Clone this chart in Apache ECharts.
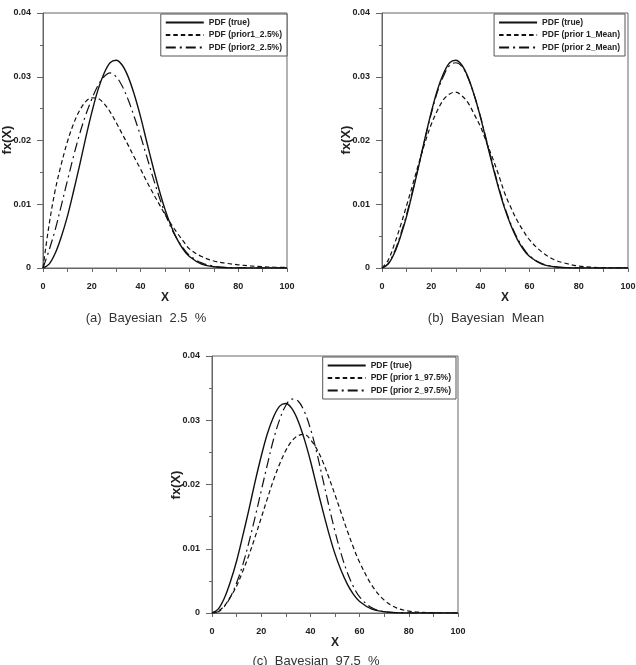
<!DOCTYPE html>
<html>
<head>
<meta charset="utf-8">
<title>Bayesian PDF</title>
<script src="https://cdn.jsdelivr.net/npm/echarts@6/dist/echarts.min.js"></script>
<style>
  html, body { margin: 0; padding: 0; background: #fff; }
  #chart { width: 636px; height: 665px; }
</style>
</head>
<body>
<div id="chart"></div>
<script>
var xs = [0, 2.5, 5, 7.5, 10, 12.5, 15, 17.5, 20, 22.5, 25, 27.5, 30, 32.5, 35, 37.5, 40,
          42.5, 45, 47.5, 50, 52.5, 55, 57.5, 60, 65, 70, 75, 80, 85, 90, 95, 100];

// true pdf (same in all three panels)
var pdfTrue = [0, 0.0006, 0.0023, 0.0049, 0.0081, 0.0120, 0.0161, 0.0204, 0.0244, 0.0279, 0.0305, 0.0322, 0.0326,
               0.0318, 0.0299, 0.0271, 0.0237, 0.0198, 0.0160, 0.0124, 0.0092, 0.0066, 0.0045, 0.0029, 0.0018,
               0.0006, 0.0002, 0.00004, 0, 0, 0, 0, 0];

// (a) 2.5 %
var prior1Low = [0, 0.0068, 0.0122, 0.0163, 0.0198, 0.0226, 0.0247, 0.0261, 0.0267, 0.0266, 0.0258, 0.0245, 0.0228,
                 0.0210, 0.0192, 0.0173, 0.0155, 0.0136, 0.0118, 0.0101, 0.0084, 0.0069, 0.0055, 0.0042, 0.0030,
                 0.0018, 0.0011, 0.00075, 0.0005, 0.00032, 0.0002, 0.00012, 0.00008];
var prior2Low = [0, 0.0028, 0.0060, 0.0098, 0.0137, 0.0175, 0.0210, 0.0240, 0.0265, 0.0286, 0.0300, 0.0306, 0.0300,
                 0.0285, 0.0263, 0.0236, 0.0207, 0.0175, 0.0143, 0.0113, 0.0086, 0.0063, 0.0045, 0.0031, 0.0020,
                 0.0008, 0.0003, 0.0001, 0.00003, 0, 0, 0, 0];

// (b) Mean
var prior1Mean = [0, 0.0012, 0.0037, 0.0066, 0.0098, 0.0131, 0.0165, 0.0197, 0.0225, 0.0247, 0.0264, 0.0273, 0.0276,
                  0.0270, 0.0259, 0.0241, 0.0222, 0.0197, 0.0172, 0.0145, 0.0116, 0.0094, 0.0074, 0.0058, 0.0044,
                  0.0025, 0.0013, 0.0007, 0.0003, 0.00013, 0.00005, 0.00002, 0];
var prior2Mean = [0, 0.0007, 0.0025, 0.0052, 0.0084, 0.0122, 0.0162, 0.0203, 0.0242, 0.0276, 0.0301, 0.0318, 0.0322,
                  0.0316, 0.0298, 0.0271, 0.0238, 0.0200, 0.0162, 0.0126, 0.0094, 0.0068, 0.0047, 0.0031, 0.0019,
                  0.0007, 0.0002, 0.00005, 0, 0, 0, 0, 0];

// (c) 97.5 %
var prior1High = [0, 0.0003, 0.0011, 0.0025, 0.0042, 0.0065, 0.0090, 0.0118, 0.0148, 0.0178, 0.0207, 0.0232, 0.0253,
                  0.0268, 0.0276, 0.0278, 0.0270, 0.0256, 0.0236, 0.0211, 0.0184, 0.0156, 0.0128, 0.0102, 0.0079,
                  0.0043, 0.0020, 0.0008, 0.0003, 0.0001, 0.00003, 0, 0];
var prior2High = [0, 0.0002, 0.0010, 0.0025, 0.0047, 0.0075, 0.0110, 0.0149, 0.0190, 0.0231, 0.0270, 0.0301, 0.0323,
                  0.0333, 0.0330, 0.0314, 0.0287, 0.0251, 0.0209, 0.0167, 0.0127, 0.0092, 0.0063, 0.0041, 0.0025,
                  0.0008, 0.0002, 0.00004, 0, 0, 0, 0, 0];

var legendNames = [
  ['PDF (true)', 'PDF (prior1_2.5%)', 'PDF (prior2_2.5%)'],
  ['PDF (true)', 'PDF (prior 1_Mean)', 'PDF (prior 2_Mean)'],
  ['PDF (true)', 'PDF (prior 1_97.5%)', 'PDF (prior 2_97.5%)']
];
var captions = ['(a)  Bayesian  2.5  %', '(b)  Bayesian  Mean', '(c)  Bayesian  97.5  %'];

var FONT = 'Liberation Sans, Arial, sans-serif';
var axisGray = '#666';
var lineStyles = [
  { type: 'solid', width: 1.4 },
  { type: [4.5, 3], width: 1.2 },
  { type: [10, 4, 2, 4], width: 1.2 }
];

function pairs(arr) {
  return xs.map(function (x, i) { return [x, arr[i]]; });
}

var grids = [
  { left: 43, top: 13, width: 244, height: 255 },
  { left: 382, top: 13, width: 246, height: 255 },
  { left: 212, top: 356, width: 246, height: 257 }
];
grids.forEach(function (g) {
  g.show = true;
  g.borderColor = axisGray;
  g.borderWidth = 1;
  g.backgroundColor = '#fff';
  g.containLabel = false;
  g.outerBoundsMode = 'none';   // keep the plot boxes where they are
});

var xAxes = [], yAxes = [];
for (var i = 0; i < 3; i++) {
  xAxes.push({
    gridIndex: i, type: 'value', min: 0, max: 100, interval: 20,
    name: 'X', nameLocation: 'middle', nameGap: 24,
    nameTextStyle: { fontFamily: FONT, fontSize: 12, fontWeight: 'bold', color: '#222' },
    axisLine: { lineStyle: { color: axisGray, width: 1 } },
    axisTick: { length: 4, lineStyle: { color: axisGray } },
    minorTick: { show: true, splitNumber: 2, length: 4, lineStyle: { color: axisGray } },
    splitLine: { show: false },
    axisLabel: { margin: 14, fontFamily: FONT, fontSize: 9, fontWeight: 'bold', color: '#222' }
  });
  // y title is drawn as a graphic below, so it sits exactly where it is in the figure
  yAxes.push({
    gridIndex: i, type: 'value', min: 0, max: 0.04, interval: 0.01,
    axisLine: { lineStyle: { color: axisGray, width: 1 } },
    axisTick: { length: 6, lineStyle: { color: axisGray } },
    minorTick: { show: true, splitNumber: 2, length: 3, lineStyle: { color: axisGray } },
    splitLine: { show: false },
    axisLabel: {
      margin: 12, fontFamily: FONT, fontSize: 9, fontWeight: 'bold', color: '#222',
      formatter: function (v) { return v === 0 ? '0' : v.toFixed(2); }
    }
  });
}

var panelData = [
  [pdfTrue, prior1Low, prior2Low],
  [pdfTrue, prior1Mean, prior2Mean],
  [pdfTrue, prior1High, prior2High]
];

var series = [];
panelData.forEach(function (set, p) {
  set.forEach(function (arr, k) {
    series.push({
      type: 'line',
      name: legendNames[p][k],
      xAxisIndex: p, yAxisIndex: p,
      data: pairs(arr),
      smooth: 0.35,
      symbol: 'none',
      lineStyle: { color: '#111', width: lineStyles[k].width, type: lineStyles[k].type },
      itemStyle: { color: '#111' },
      z: 3
    });
  });
});

var legendRight = [349, 11, 180];
var legendTop = [14, 14, 357];
var legends = legendNames.map(function (names, p) {
  return {
    data: names,
    orient: 'vertical',
    right: legendRight[p],
    top: legendTop[p],
    itemWidth: 38,
    itemHeight: 10,
    itemGap: 3.5,
    padding: [4, 5, 4, 4],
    borderColor: '#555',
    borderWidth: 1,
    backgroundColor: '#fff',
    selectedMode: false,
    itemStyle: { opacity: 0 },
    textStyle: { fontFamily: FONT, fontSize: 8.5, fontWeight: 'bold', color: '#222' }
  };
});

var captionPos = [[146, 318], [486, 318], [316, 661]];
var yTitlePos = [[7, 140], [346, 140], [176, 485]];
var graphics = [];
captions.forEach(function (t, p) {
  graphics.push({
    type: 'text',
    x: captionPos[p][0], y: captionPos[p][1],
    style: {
      text: t, fontFamily: FONT, fontSize: 13, fill: '#333',
      textAlign: 'center', textVerticalAlign: 'middle'
    }
  });
  graphics.push({
    type: 'text',
    x: yTitlePos[p][0], y: yTitlePos[p][1],
    rotation: Math.PI / 2,
    style: {
      text: 'fx(X)', fontFamily: FONT, fontSize: 13, fontWeight: 'bold', fill: '#222',
      textAlign: 'center', textVerticalAlign: 'middle'
    }
  });
});

var chart = echarts.init(document.getElementById('chart'));
chart.setOption({
  animation: false,
  backgroundColor: '#fff',
  grid: grids,
  xAxis: xAxes,
  yAxis: yAxes,
  legend: legends,
  series: series,
  graphic: graphics
});
</script>
</body>
</html>
